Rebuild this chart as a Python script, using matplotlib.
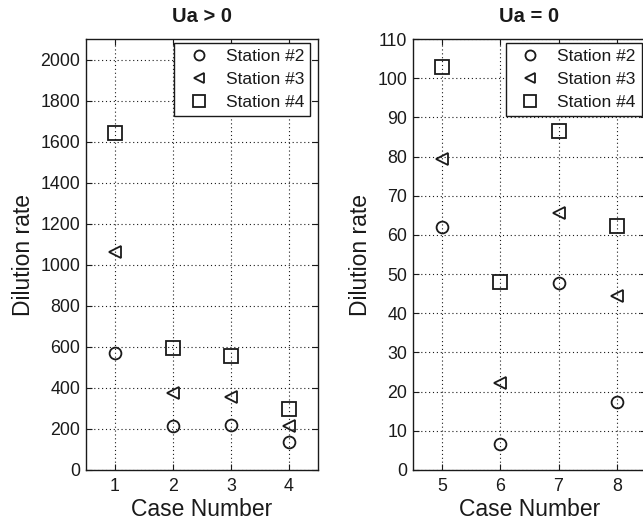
import matplotlib
matplotlib.use("Agg")
import matplotlib.pyplot as plt

# ── data ─────────────────────────────────────────────────────────────────────
cases_a = [1, 2, 3, 4]
st2_a = [568, 216, 221, 135]
st3_a = [1060, 373, 354, 214]
st4_a = [1644, 596, 555, 297]

cases_b = [5, 6, 7, 8]
st2_b = [62.1, 6.6, 47.8, 17.4]
st3_b = [79.4, 22.1, 65.5, 44.4]
st4_b = [102.9, 48.1, 86.5, 62.4]

labels = ["Station #2", "Station #3", "Station #4"]
yticks_a = list(range(0, 2001, 200))
yticks_b = list(range(0, 111, 10))

plt.rcParams["font.family"] = ["Liberation Sans", "DejaVu Sans"]
INK = "#1a1a1a"

fig = plt.figure(figsize=(6.43, 5.23), dpi=100)
W, H = 643, 523


def panel(rect_px, cases, series, ylim, yticks, title, leg_anchor):
    x0, y0, x1, y1 = rect_px
    ax = fig.add_axes([x0 / W, 1 - y1 / H, (x1 - x0) / W, (y1 - y0) / H])
    styles = [("o", 8.5), ("<", 9), ("s", 9.5)]
    for vals, (mk, ms), lab in zip(series, styles, labels):
        ax.plot(cases, vals, linestyle="none", marker=mk, markersize=ms,
                markerfacecolor="none", markeredgecolor=INK,
                markeredgewidth=1.3, label=lab)
    ax.set_xlim(cases[0] - 0.5, cases[-1] + 0.5)
    ax.set_ylim(*ylim)
    ax.set_xticks(cases)
    ax.set_yticks(yticks)
    ax.grid(True, linestyle=(0, (1, 2.5)), color=INK, linewidth=0.8)
    ax.tick_params(direction="in", length=4, width=0.8, top=True, right=True,
                   labelsize=12.8, colors=INK)
    ax.tick_params(axis="x", pad=6)
    ax.tick_params(axis="y", pad=4)
    for s in ax.spines.values():
        s.set_linewidth(1.0)
        s.set_color(INK)
    ax.set_xlabel("Case Number", fontsize=16.5, color=INK, labelpad=2)
    ax.set_ylabel("Dilution rate", fontsize=16.5, color=INK, labelpad=4)
    ax.set_title(title, fontsize=14.5, fontweight="bold", color=INK, pad=12)
    leg = ax.legend(loc="upper right", bbox_to_anchor=leg_anchor,
                    numpoints=1, fontsize=12.5, markerscale=0.85,
                    fancybox=False, framealpha=1, edgecolor=INK,
                    handlelength=2.1, handletextpad=0.5, borderpad=0.35,
                    labelspacing=0.45, borderaxespad=0)
    leg.get_frame().set_linewidth(1.0)
    for t in leg.get_texts():
        t.set_color(INK)
    return ax


panel((86, 39, 318, 470), cases_a, [st2_a, st3_a, st4_a], (0, 2100),
      yticks_a, "Ua > 0", (0.9655, 0.9907))
panel((412.7, 39, 646, 470), cases_b, [st2_b, st3_b, st4_b], (0, 110),
      yticks_b, "Ua = 0", (0.9816, 0.9907))

fig.savefig("out.png", dpi=100)
